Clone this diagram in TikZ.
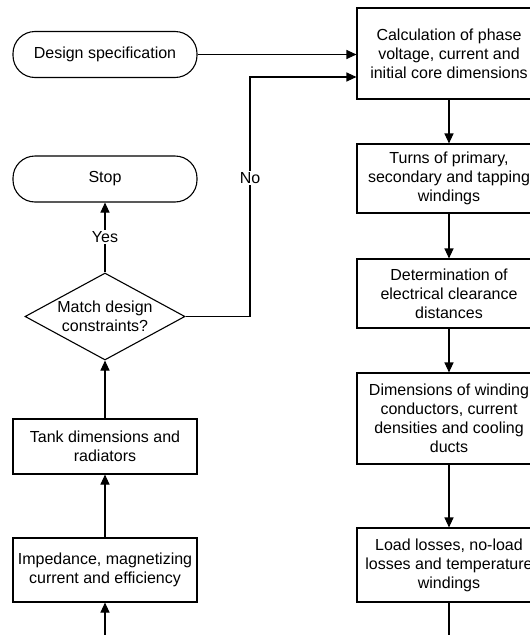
\documentclass[tikz,border=0pt]{standalone}
\usepackage{fontspec}
\setmainfont{Liberation Sans}
\usetikzlibrary{shapes.geometric,arrows.meta}
\begin{document}
\begin{tikzpicture}[x=1pt,y=-1pt,
  font=\fontsize{16}{19}\selectfont,
  every node/.style={align=center,inner sep=0pt},
  proc/.style={draw,line width=1.1pt,minimum width=184pt},
  term/.style={draw,line width=1.1pt,rounded corners=22pt,minimum width=184pt,minimum height=46pt},
  dec/.style={draw,diamond,line width=1.1pt,minimum width=160pt,minimum height=87pt},
  arr/.style={line width=1.1pt,-{Triangle[length=10pt,width=9pt]}},
  lab/.style={fill=white,inner sep=1.5pt}]
\useasboundingbox (0,0) rectangle (530,635);
\clip (0,0) rectangle (530,635);
% left column
\node[term] (ds) at (105,54.5) {Design specification};
\node[term] (stop) at (105,179) {Stop};
\node[dec,label={[align=center,font=\fontsize{16}{19}\selectfont]center:Match design\\constraints?}] (dia) at (105,316.5) {};
\node[proc,minimum height=55pt] (tank) at (105,446.5) {Tank dimensions and\\radiators};
\node[proc,minimum height=64pt] (imp) at (105,570) {Impedance, magnetizing\\current and efficiency};
% right column
\node[proc,minimum height=91pt] (calc) at (449,53.5) {Calculation of phase\\voltage, current and\\initial core dimensions};
\node[proc,minimum height=69pt] (turns) at (449,178.5) {Turns of primary,\\secondary and tapping\\windings};
\node[proc,minimum height=69pt] (det) at (449,293.5) {Determination of\\electrical clearance\\distances};
\node[proc,minimum height=91pt] (dim) at (449,418.5) {Dimensions of winding\\conductors, current\\densities and cooling\\ducts};
\node[proc,minimum height=74pt] (load) at (449,565) {Load losses, no-load\\losses and temperature\\windings};
% free ends
\coordinate (loadout) at (449,660);
\coordinate (impin) at (105,660);
\coordinate (nk) at (250,77);
% connectors
\draw[arr] (ds.east) -- (ds.east -| calc.west);
\draw[arr] (dia.east) -| (nk) -- (nk -| calc.west);
\node[lab] (no) at (250,178) {No};
\draw[arr] (dia.north) -- (stop.south);
\node[lab] (yes) at (105,237) {Yes};
\draw[arr] (calc) -- (turns);
\draw[arr] (turns) -- (det);
\draw[arr] (det) -- (dim);
\draw[arr] (dim) -- (load);
\draw[line width=1.1pt] (load.south) -- (loadout);
\draw[arr] (impin) -- (imp.south);
\draw[arr] (imp) -- (tank);
\draw[arr] (tank.north) -- (dia.south);
\end{tikzpicture}
\end{document}
